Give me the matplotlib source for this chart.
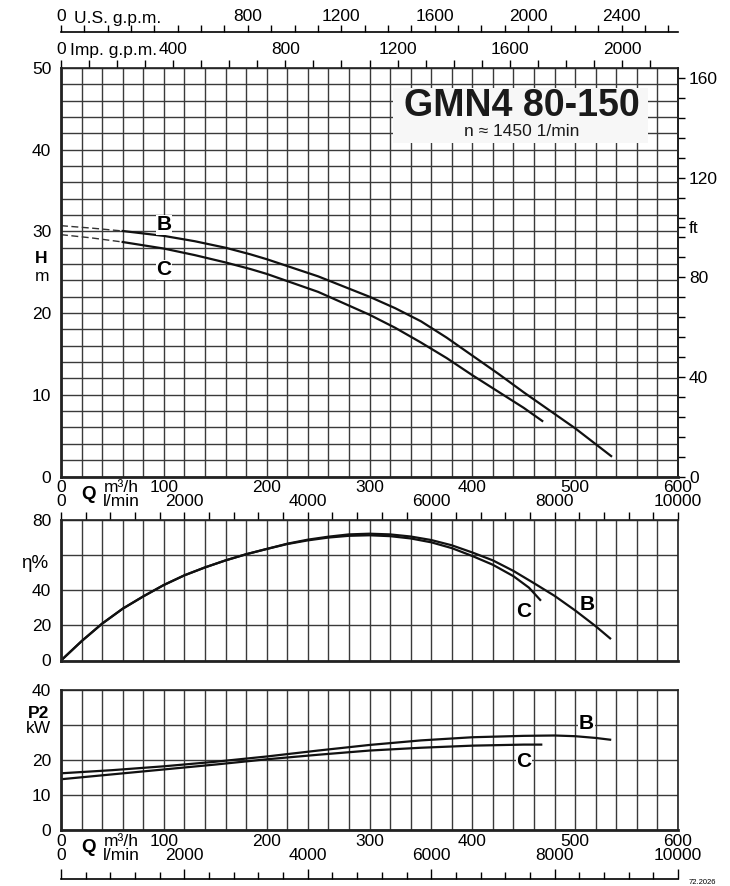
import matplotlib
matplotlib.use('Agg')
import matplotlib.pyplot as plt
from matplotlib.patches import Rectangle
import numpy as np

plt.rcParams['font.family'] = ['Liberation Sans', 'DejaVu Sans']

# ---------------- data ----------------
# Head curves (Q in m3/h, H in m)
q_h_b = [0, 30, 60, 100, 130, 160, 184, 200, 250, 300, 325, 350, 375, 400, 425, 450, 475, 500, 535]
h_b = [30.7, 30.4, 30.05, 29.45, 28.8, 28.0, 27.2, 26.6, 24.5, 22.0, 20.6, 19.0, 17.0, 14.8, 12.6, 10.3, 8.1, 5.9, 2.5]
q_h_c = [0, 30, 60, 100, 130, 160, 184, 200, 250, 300, 325, 350, 375, 400, 425, 450, 468]
h_c = [29.6, 29.2, 28.7, 27.9, 27.1, 26.2, 25.4, 24.8, 22.6, 19.8, 18.2, 16.4, 14.5, 12.4, 10.4, 8.4, 6.8]
h_dashed_until = 60

# Efficiency curves (%)
q_e_b = [0, 20, 40, 60, 80, 100, 120, 140, 160, 180, 200, 220, 240, 260, 280, 300, 320,
         340, 360, 380, 400, 420, 440, 460, 480, 500, 520, 534]
e_b = [0, 11, 21, 29.5, 36.5, 43, 48.5, 53, 57, 60.5, 63.5, 66.5, 68.8, 70.5, 71.8, 72.2, 71.8,
       70.6, 68.6, 65.6, 61.5, 57, 51, 44, 36.8, 28.5, 19.5, 12.6]
q_e_c = [0, 20, 40, 60, 80, 100, 120, 140, 160, 180, 200, 220, 240, 260, 280, 300, 320,
         340, 360, 380, 400, 420, 440, 455, 466]
e_c = [0, 11, 21, 29.5, 36.5, 43, 48.5, 53, 57, 60.5, 63.5, 66.3, 68.4, 70, 71, 71.3, 70.8,
       69.5, 67.3, 64, 59.5, 54.5, 48, 41.5, 34.5]

# Power curves (kW)
q_p_b = [0, 50, 100, 150, 200, 250, 300, 350, 400, 450, 480, 500, 520, 534]
p_b = [16.2, 17.1, 18.2, 19.5, 21.0, 22.7, 24.3, 25.6, 26.5, 26.9, 27.0, 26.8, 26.3, 25.8]
q_p_c = [0, 50, 100, 150, 200, 250, 300, 350, 400, 450, 467]
p_c = [14.5, 15.9, 17.3, 18.7, 20.2, 21.5, 22.7, 23.5, 24.1, 24.4, 24.4]

# tick labels
q_m3h_labels = [0, 100, 200, 300, 400, 500, 600]
q_lmin_labels = [0, 2000, 4000, 6000, 8000, 10000]
us_gpm_labels = [0, 800, 1200, 1600, 2000, 2400]
imp_gpm_labels = [0, 400, 800, 1200, 1600, 2000]
ft_ticks = [0, 40, 80, 100, 120, 160]
ft_labels = ['0', '40', '80', 'ft', '120', '160']

title = 'GMN4 80-150'
subtitle = 'n \u2248 1450 1/min'

# unit conversions
M3H_TO_LMIN = 1000 / 60
M3H_TO_USGPM = 4.40287
M3H_TO_IMPGPM = 3.66615
M_TO_FT = 1 / 0.3048

# ---------------- figure ----------------
W, H = 730, 886
fig = plt.figure(figsize=(W / 100, H / 100), dpi=100)


def rect(l, t, r, b):
    return [l / W, 1 - b / H, (r - l) / W, (b - t) / H]


GRID_C = '#3a3a3a'
LW_CURVE = 1.6
FS = 12.5

ax1 = fig.add_axes(rect(61, 68, 678, 476.5))
ax2 = fig.add_axes(rect(61, 520, 678, 660.5))
ax3 = fig.add_axes(rect(61, 690, 678, 830))


def style(ax, ymax, ystep, labels):
    ax.set_xlim(0, 600)
    ax.set_ylim(0, ymax)
    ax.set_xticks(np.arange(0, 601, 20))
    ax.set_xticklabels([])
    yt = np.arange(0, ymax + 0.001, ystep)
    ax.set_yticks(yt)
    ax.set_yticklabels(labels, fontsize=FS)
    ax.tick_params(axis='both', length=0, pad=7)
    ax.grid(True, color=GRID_C, lw=1.0)
    ax.set_axisbelow(True)
    for s in ['left', 'bottom']:
        ax.spines[s].set_linewidth(2.0)
    for s in ['top', 'right']:
        ax.spines[s].set_linewidth(1.2)
    for s in ax.spines.values():
        s.set_color('#222222')


style(ax1, 50, 2, [str(int(v)) if v % 10 == 0 else '' for v in np.arange(0, 51, 2)])
style(ax2, 80, 20, ['0', '20', '40', '', '80'])
style(ax3, 40, 10, ['0', '10', '20', '', '40'])

# ---- head curves ----
for q, h in [(q_h_b, h_b), (q_h_c, h_c)]:
    q = np.array(q); h = np.array(h)
    k = np.searchsorted(q, h_dashed_until) + 1
    ax1.plot(q[:k], h[:k], color='#333333', lw=1.0, ls=(0, (5, 2.5)))
    ax1.plot(q[k - 1:], h[k - 1:], color='#111111', lw=LW_CURVE)

ax1.text(100, 30.8, 'B', fontsize=15, fontweight='bold', ha='center', va='center',
         bbox=dict(facecolor='white', edgecolor='none', pad=0.5))
ax1.text(100, 25.3, 'C', fontsize=15, fontweight='bold', ha='center', va='center',
         bbox=dict(facecolor='white', edgecolor='none', pad=0.5))

# ---- efficiency ----
ax2.plot(q_e_b, e_b, color='#111111', lw=LW_CURVE)
ax2.plot(q_e_c, e_c, color='#111111', lw=LW_CURVE)
ax2.text(512, 32, 'B', fontsize=15, fontweight='bold', ha='center', va='center')
ax2.text(450, 28, 'C', fontsize=15, fontweight='bold', ha='center', va='center')

# ---- power ----
ax3.plot(q_p_b, p_b, color='#111111', lw=LW_CURVE)
ax3.plot(q_p_c, p_c, color='#111111', lw=LW_CURVE)
ax3.text(511, 30.5, 'B', fontsize=15, fontweight='bold', ha='center', va='center',
         bbox=dict(facecolor='white', edgecolor='none', pad=0.5))
ax3.text(450, 19.5, 'C', fontsize=15, fontweight='bold', ha='center', va='center',
         bbox=dict(facecolor='white', edgecolor='none', pad=0.5))

# ---- left axis special labels ----
ax1.text(-19, 26.7, 'H', fontsize=FS, fontweight='bold', ha='center', va='center')
ax1.text(-18, 24.5, 'm', fontsize=FS, ha='center', va='center')
ax2.text(-26, 55.5, '\u03b7%', fontsize=FS + 1, ha='center', va='center')
ax3.text(-22, 33.4, 'P2', fontsize=FS, fontweight='bold', ha='center', va='center')
ax3.text(-22, 29.1, 'kW', fontsize=FS, ha='center', va='center')

# ---- title box ----
ax1.add_patch(Rectangle((0.538, 0.8164), 0.413, 0.1346, transform=ax1.transAxes,
                        facecolor='#f7f7f7', edgecolor='none', zorder=3))
ax1.text(0.747, 0.908, title, transform=ax1.transAxes, fontsize=27, fontweight='bold',
         ha='center', va='center', zorder=4, color='#1a1a1a')
ax1.text(0.747, 0.8435, subtitle, transform=ax1.transAxes, fontsize=12.5,
         ha='center', va='center', zorder=4, color='#1a1a1a')


# ---- bottom Q labels (main + power) ----
def q_labels(ax):
    for v in q_m3h_labels:
        ax.annotate(str(v), xy=(v, 0), xycoords=('data', 'axes fraction'),
                    xytext=(0, -11), textcoords='offset pixels', ha='center', va='center',
                    fontsize=FS)
    for v in q_lmin_labels:
        ax.annotate(str(v), xy=(v / M3H_TO_LMIN, 0), xycoords=('data', 'axes fraction'),
                    xytext=(0, -25), textcoords='offset pixels', ha='center', va='center',
                    fontsize=FS)
    ax.annotate('Q', xy=(0, 0), xycoords='axes fraction', xytext=(27, -18),
                textcoords='offset pixels', ha='center', va='center', fontsize=FS + 1,
                fontweight='bold')
    ax.annotate('m\u00b3/h', xy=(0, 0), xycoords='axes fraction', xytext=(60, -11),
                textcoords='offset pixels', ha='center', va='center', fontsize=FS)
    ax.annotate('l/min', xy=(0, 0), xycoords='axes fraction', xytext=(60, -25),
                textcoords='offset pixels', ha='center', va='center', fontsize=FS)


q_labels(ax1)
q_labels(ax3)

# ---- right ft axis ----
sec = ax1.secondary_yaxis('right', functions=(lambda m: m * M_TO_FT, lambda f: f / M_TO_FT))
sec.set_yticks(ft_ticks)
sec.set_yticklabels(ft_labels, fontsize=FS)
sec.set_yticks(np.arange(0, 161, 8), minor=True)
sec.tick_params(which='major', length=5, width=1, pad=3)
sec.tick_params(which='minor', length=5, width=1)
sec.spines['right'].set_linewidth(1.2)

# ---- Imp gpm axis on main top ----
imp = ax1.secondary_xaxis('top', functions=(lambda q: q * M3H_TO_IMPGPM,
                                             lambda g: g / M3H_TO_IMPGPM))
imp.set_xticks(imp_gpm_labels)
imp.set_xticklabels([str(v) for v in imp_gpm_labels], fontsize=FS)
imp.set_xticks(np.arange(0, 2201, 100), minor=True)
imp.tick_params(which='both', length=6, width=1, direction='out', pad=2)
ax1.annotate('Imp. g.p.m.', xy=(0, 1), xycoords='axes fraction', xytext=(9, 17),
             textcoords='offset pixels', ha='left', va='center', fontsize=FS)

# ---- US gpm axis ----
axu = fig.add_axes(rect(61, 32, 678, 32.1))
axu.set_xlim(0, 600 * M3H_TO_USGPM)
axu.set_ylim(0, 1)
for s in ['left', 'right', 'bottom']:
    axu.spines[s].set_visible(False)
axu.spines['top'].set_linewidth(1.2)
axu.set_yticks([])
axu.xaxis.tick_top()
axu.set_xticks(us_gpm_labels)
axu.set_xticklabels([str(v) for v in us_gpm_labels], fontsize=FS)
axu.set_xticks(np.arange(0, 2601, 100), minor=True)
axu.tick_params(which='both', length=5, width=1, direction='out', pad=1)
axu.patch.set_visible(False)
axu.annotate('U.S. g.p.m.', xy=(0, 1), xycoords='axes fraction', xytext=(13, 13),
             textcoords='offset pixels', ha='left', va='center', fontsize=FS)

# ---- l/min ticks on efficiency top ----
topl = ax2.secondary_xaxis('top', functions=(lambda q: q * M3H_TO_LMIN,
                                              lambda l: l / M3H_TO_LMIN))
topl.set_xticks(np.arange(0, 10001, 400))
topl.set_xticklabels([])
topl.tick_params(length=6, width=1, direction='out')

# ---- bottom l/min tick line ----
axb = fig.add_axes(rect(61, 879, 678, 879.1))
axb.set_xlim(0, 10000)
for s in ['left', 'right', 'bottom']:
    axb.spines[s].set_visible(False)
axb.spines['top'].set_linewidth(1.2)
axb.set_yticks([])
axb.xaxis.tick_top()
axb.set_xticks(np.arange(0, 10001, 2000))
axb.set_xticks(np.arange(0, 10001, 400), minor=True)
axb.set_xticklabels([])
axb.tick_params(which='major', length=7, width=1, direction='out')
axb.tick_params(which='minor', length=5, width=1, direction='out')
axb.patch.set_visible(False)
fig.text(702 / W, 1 - 882 / H, '72.2026', fontsize=5.5, ha='center', va='center')

fig.savefig('out.png', dpi=100)
